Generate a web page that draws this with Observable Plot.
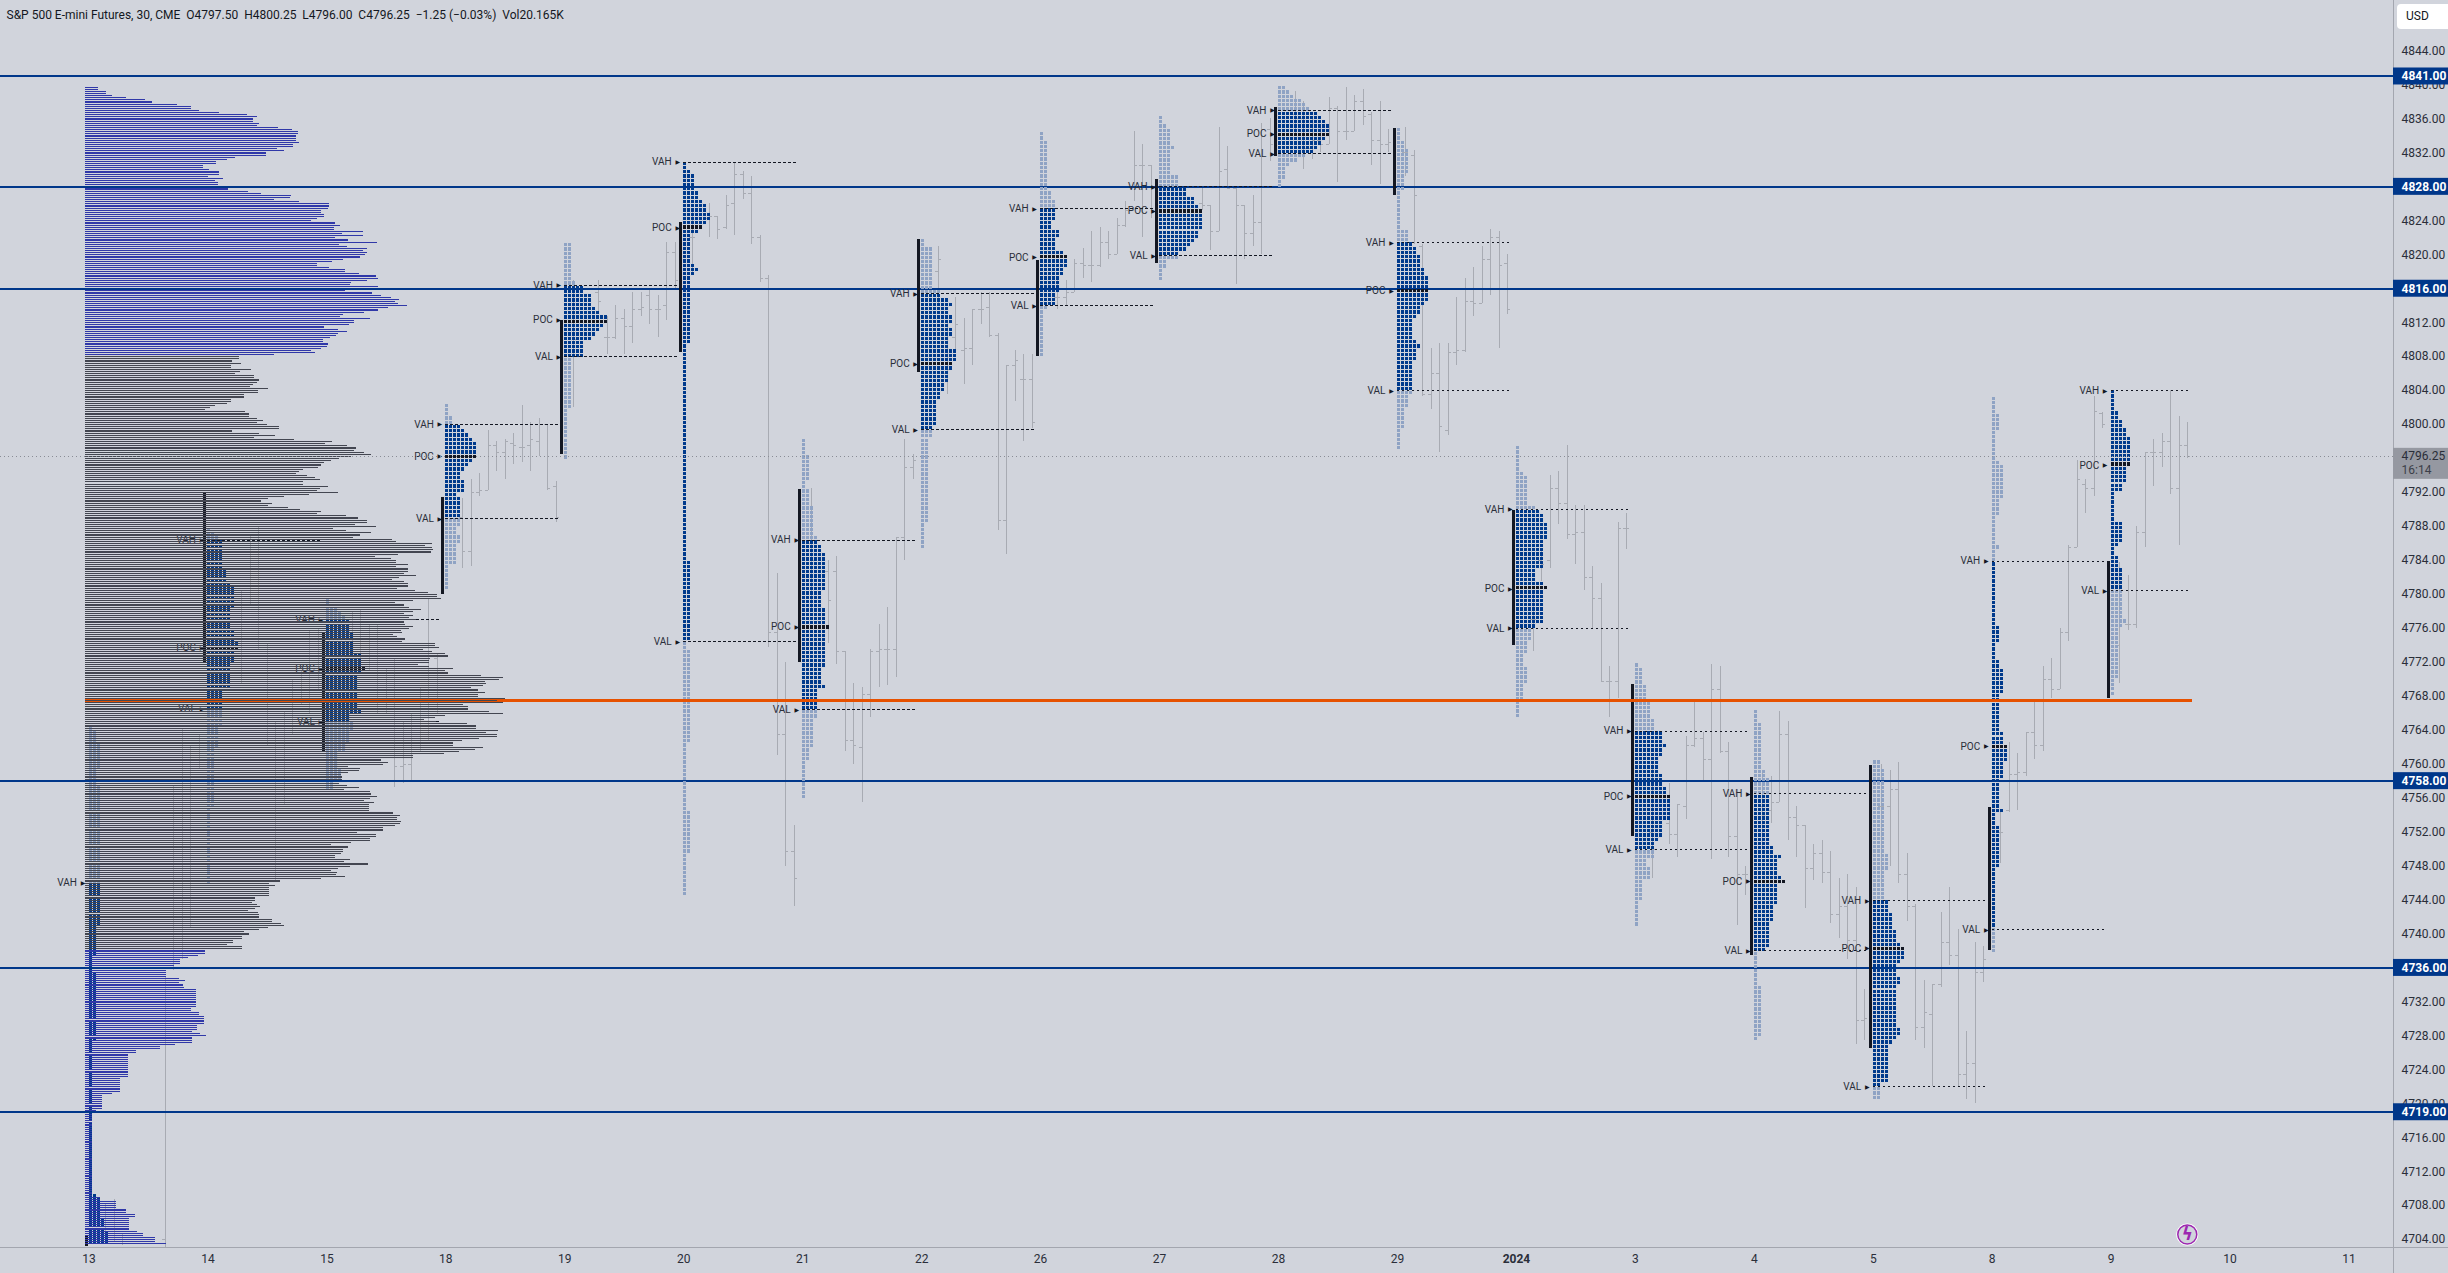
<!DOCTYPE html>
<html><head><meta charset="utf-8">
<script src="https://cdn.jsdelivr.net/npm/d3@7"></script>
<script src="https://cdn.jsdelivr.net/npm/@observablehq/plot@0.6"></script>
<style>
html,body{margin:0;padding:0;background:#D1D4DC;overflow:hidden}
#usd{position:absolute;left:2397px;top:4px;width:51px;height:25px;background:#fff;border-radius:4px 0 0 4px;font:12px Roboto,sans-serif;color:#131722;line-height:25px;padding-left:9px;box-sizing:border-box}
</style></head><body>
<div id="chart"></div><div id="usd">USD</div>
<script>
const titleText="S&P 500 E-mini Futures, 30, CME  O4797.50  H4800.25  L4796.00  C4796.25  −1.25 (−0.03%)  Vol20.165K";
const tickLabels=["13","14","15","18","19","20","21","22","26","27","28","29","2024","3","4","5","8","9","10","11"];
const priceTicks=[4704,4708,4712,4716,4720,4724,4728,4732,4736,4740,4744,4748,4752,4756,4760,4764,4768,4772,4776,4780,4784,4788,4792,4796,4800,4804,4808,4812,4816,4820,4824,4828,4832,4836,4840,4844];
const blueLevels=[4841,4828,4816,4758,4736,4719];
const orangeLevel=4767.5;
const lastPrice=4796.25;

// session composite volume profile, by tick rows of 0.25 from each start price
const profileA=[30,30,47,47,60,92,135,150,206,238,238,256,301,363,386,377,377,390,386,433,464,478,478,473,473,472,480,466,466,430,446,405,406,336,318,293,294,265,265,278,301,301,276,310,292,298,298,327,320,366,395,462,460,424,480,547,547,545,529,529,536,536,520,507,560,572,559,558,623,576,623,560,590,654,569,587,632,623,632,628,616,578,554,520,520,547,583,583,614,652,657,632,597,593,657,600,583,643,663,686,704,694,702,722,679,657,625,578,572,639,603,603,592,536,567,587,567,563,549,534,534,545,542,529,507,516,424];
const profileB=[345,345,330,351,327,327,372,348,336,379,379,390,385,377,370,410,388,388,357,357,327,327,318,292,280,269,359,368,368,386,400,386,408,435,435,330,390,426,379,469];
const profileC=[554,538,587,607,603,625,640,596,570,551,536,530,522,488,480,473,498,516,527,489,489,545,527,520,567,503,446,410,395,419,410,455,482,530,520,585,612,632,632,605,652,556,586,640,616,600,688,697,778,762,778,780,775,702,650,686,698,697,725,698,723,725,715,742,704,688,715,723,723,700,740,769,789,788,798,735,695,715,727,753,735,715,735,727,742,715,717,735,727,708,710,690,700,717,710,784,784,793,758,777,807,814,773,770,770,746,772,825,807,813,814,778,816,829,778,831];
const profileD=[887,937,928,896,899,893,865,881,896,881,881,942,923,937,847,858,858,905,937,807,784,760,787,856,876,876,926,899,923,923,883,845,825,825,892,874,838,805,735,735,664,679,668,590,616,614,590,574,577,577,569,569,587,615,581,639,640,654,639,625,648,637,637,637,637,690,706,699,699,708,706,695,668,668,610,652,652,639,639,596,551,590,578,578,573,560,560,594,580,634,594,567,551,565,563,582,529,505,508,489,482,472,450];
const profileE=[437,413,426,413,413,413,413,413,381,381,374,386,392,381,366,388,390,390,419,419,439,446,410,390,357,368,352,352,332,332,318,352,352,377,354,294];
const profileF=[269,269,254,231,213,213,213,200,200,182,182,182,182,211,224,211,220,222,249,249,249,249,249,249,249,249,249,238,238,256,256,267,267,267,267,251,251,251,240,258,271,240,240,240,202,168,168,115,115,97,97,97,97,97,97,97,97,97,97,97,79,79,79,79,79,79,79,61,38,38,38,38,38,38,38,25,25,16,16,16,16,16,16,16,16,16,16,16,16,16,16,16,16,16,16,16,16,16,16,16,16,16,16,16,16,16,16,16,16,16,16,16,16,16,16,16,34,34,70,70,70,70,92,92,112,112,99,99,99,99,99,99,117,130,130,157,157,157,182];
const profileStarts=[[4839.75,profileA],[4808,profileB],[4798,profileC],[4770.5,profileD],[4746.25,profileE],[4738,profileF]];
const valueAreaHigh=4808, valueAreaLow=4738.25;

// daily TPO profile: session tops, VAH, POC, VAL, opening range high and low
const sessionTop=[4764.35,4787.8,4779.4,4802.4,4821.3,4830.9,4798.3,4821.8,4834.4,4836.3,4839.8,4834.9,4797.4,4771.8,4766.3,4760.4,4803.2,4804];
const sessionVah=[4746,4786.4,4777,4800,4816.4,4830.9,4786.4,4815.4,4825.4,4828,4837,4821.4,4790,4763.9,4756.5,4743.9,4783.9,4804];
const sessionPoc=[null,4773.7,4771.2,4796.25,4812.3,4823.2,4776.2,4807.1,4819.7,4825.2,4834.2,4815.7,4780.6,4756.2,4746.2,4738.3,4762.1,4795.2];
const sessionVal=[null,4766.5,4765,4788.9,4808,4774.4,4766.4,4799.4,4814,4819.9,4831.9,4804,4776,4749.9,4738,4722,4740.5,4780.4];
const openHigh=[4704.5,4791.9,4775.4,4791.4,4812.2,4823.8,4792.3,4821.8,4819.3,4828.9,4837.3,4834.9,4789.9,4769.4,4758.4,4759.8,4754.9,4783.9];
const openLow=[4703.2,4771.9,4761.5,4780,4796.5,4808.5,4772,4806.1,4808,4819,4831.6,4827,4774,4751.5,4737.5,4726.5,4738.1,4767.7];

// TPO widths as runs of [row count, letters per row], from top to bottom
const tpo13=[[1,1],[3,2],[6,3],[4,2],[22,3],[11,3],[7,2],[4,1],[16,2],[36,1],[1,2],[5,3],[3,4],[3,5]];
const tpo14=[[1,1],[1,2],[1,3],[7,4],[3,5],[1,6],[5,7],[5,6],[3,7],[2,8],[3,7],[6,6],[5,4],[4,4],[5,3],[14,2],[18,1]];
const tpo15=[[2,1],[1,3],[1,4],[1,5],[3,6],[5,7],[3,9],[1,10],[1,9],[3,8],[5,8],[1,9],[2,6],[2,7],[3,6],[2,5],[4,3],[3,4],[2,2]];
const tpo18=[[3,1],[2,2],[1,4],[1,5],[1,6],[1,7],[4,8],[1,7],[1,6],[1,5],[2,4],[3,5],[1,3],[5,4],[2,4],[2,3],[2,4],[5,3],[6,1]];
const tpo19=[[9,2],[1,3],[2,5],[3,7],[1,8],[1,9],[2,11],[1,10],[1,9],[1,8],[1,7],[1,5],[3,5],[12,2],[12,1]];
const tpo20=[[2,1],[1,2],[4,3],[2,4],[1,5],[2,6],[2,7],[1,6],[1,5],[1,4],[7,2],[1,3],[1,4],[1,3],[16,2],[51,1],[17,2],[2,2],[2,1],[22,2],[16,1],[10,2],[10,1]];
const tpo21=[[4,1],[6,2],[2,1],[4,2],[7,3],[1,4],[1,4],[2,5],[9,6],[4,5],[4,6],[1,7],[5,6],[4,6],[4,5],[1,6],[5,4],[2,4],[7,3],[3,2],[9,1]];
const tpo22=[[2,1],[8,3],[2,3],[2,5],[1,7],[1,8],[2,7],[2,8],[1,7],[2,8],[3,7],[3,9],[2,8],[3,7],[2,6],[2,5],[6,4],[3,3],[20,2],[6,1]];
const tpo26=[[2,1],[10,2],[2,2],[2,3],[2,4],[3,4],[2,3],[2,5],[3,4],[1,6],[3,7],[2,6],[4,5],[3,4],[1,2],[11,1]];
const tpo27=[[2,1],[1,2],[4,3],[1,4],[6,3],[3,5],[2,7],[2,9],[1,10],[5,11],[2,10],[1,9],[1,8],[1,7],[2,5],[2,2],[3,1]];
const tpo28=[[1,2],[1,3],[1,4],[1,6],[1,7],[1,8],[1,10],[1,11],[1,12],[3,13],[1,12],[1,11],[1,10],[1,9],[1,7],[1,5],[1,3],[3,2],[2,1]];
const tpo29=[[3,1],[2,2],[6,3],[4,2],[9,1],[3,3],[1,4],[2,5],[3,6],[2,7],[6,8],[1,7],[2,6],[1,5],[5,4],[1,5],[1,6],[3,5],[6,4],[2,4],[3,3],[5,2],[5,1]];
const tpoJan2=[[6,1],[1,2],[7,3],[1,5],[1,6],[2,7],[4,8],[7,7],[3,5],[1,7],[1,8],[8,7],[1,5],[3,4],[3,3],[3,2],[4,3],[4,2],[4,1]];
const tpoJan3=[[1,1],[4,2],[4,3],[4,4],[3,5],[3,7],[1,8],[2,7],[4,6],[3,7],[2,8],[6,9],[4,7],[1,6],[2,5],[2,5],[2,3],[3,4],[5,2],[6,1]];
const tpoJan4=[[3,1],[11,2],[2,3],[4,4],[12,4],[2,5],[1,7],[4,6],[1,7],[1,8],[5,6],[4,5],[6,4],[1,3],[8,1],[12,2],[1,1]];
const tpoJan5=[[2,2],[20,3],[4,4],[4,3],[3,3],[3,4],[4,5],[3,6],[1,7],[3,8],[1,7],[3,6],[2,7],[10,6],[2,7],[1,6],[1,5],[8,4],[1,4],[4,2]];
const tpoJan8=[[4,1],[4,2],[7,1],[1,2],[8,3],[4,2],[7,1],[1,2],[3,1],[15,1],[4,2],[4,1],[2,2],[6,3],[2,2],[7,2],[3,3],[1,4],[3,4],[4,3],[7,2],[1,3],[3,1],[10,2],[15,1],[5,1]];
const tpoJan9=[[5,1],[2,2],[2,3],[2,4],[7,5],[4,4],[2,3],[7,1],[5,3],[1,2],[2,1],[3,2],[4,3],[8,3],[1,4],[1,3],[12,2],[4,1]];
const tpoRows=[tpo13,tpo14,tpo15,tpo18,tpo19,tpo20,tpo21,tpo22,tpo26,tpo27,tpo28,tpo29,tpoJan2,tpoJan3,tpoJan4,tpoJan5,tpoJan8,tpoJan9];

// 30-minute bars per session: [slot, high, low, open, close]
const bars13=[[2,4708.25,4704.25,4706,4706],[3,4708.75,4703.75,4705,4707],[4,4704.75,4703.25,4704,4704],[9,4735,4703,4704,4734],[10,4757.5,4735.75,4736,4755],[11,4764.25,4737,4755,4756],[12,4762.25,4740.75,4756,4758],[13,4763.5,4759.5,4762,4760]];
const bars14=[[4,4780.5,4769.5,4775,4774],[5,4787,4778.75,4780,4784],[6,4788,4773.5,4784,4776],[7,4774.25,4762.25,4774,4765],[8,4765,4746.25,4765,4750],[9,4766.25,4755.25,4755.5,4762],[10,4770,4763.5,4764,4766],[11,4771,4767,4768,4769],[12,4775.75,4766,4769,4772],[13,4776,4768.75,4772,4773]];
const bars15=[[3,4778,4774.5,4776,4776],[4,4778.25,4771.5,4776,4776],[5,4776.5,4771,4776.25,4772],[6,4776.5,4766,4772,4772],[7,4771.25,4766,4770,4768],[8,4772.5,4757.25,4770,4759.75],[9,4765,4757.75,4759.75,4760],[10,4766,4758,4760,4762],[11,4769,4761.5,4762,4764],[12,4779.5,4762.75,4764,4774],[13,4773,4766,4772.5,4770]];
const bars18=[[2,4791.25,4783,4789,4785],[3,4793.5,4783.25,4785,4792],[4,4794.25,4791.5,4792,4792.25],[5,4799.25,4792.25,4792.25,4797.5],[6,4798,4794.5,4797.5,4796.75],[7,4798.25,4793.5,4796.75,4798],[8,4799,4795.25,4797.75,4797.5],[9,4802.25,4795.5,4797.25,4797.25],[10,4800.25,4794.5,4797.5,4798.25],[11,4800.75,4796.25,4798,4800],[12,4800,4792.25,4800,4792.5],[13,4793.25,4788.5,4792.75,4789]];
const bars19=[[1,4817,4802,4812,4810],[4,4817,4813,4815.5,4814.5],[5,4812.75,4808.25,4810.25,4810.25],[6,4814,4810,4810.25,4812.5],[7,4813.5,4808.25,4812.5,4811.5],[8,4815.5,4809.5,4811.5,4813.5],[9,4815.5,4812.75,4813.5,4813.75],[10,4816,4811.75,4815.25,4813.5],[11,4815.25,4810.25,4813.5,4813.5],[12,4821.5,4812.25,4814,4820.25],[13,4821.5,4815.75,4820.25,4817]];
const bars20=[[1,4825,4817.75,4822,4822],[3,4826,4822,4824.25,4824.5],[4,4824.5,4821.75,4824.5,4823],[5,4827,4823,4823.25,4825.75],[6,4830.75,4822.25,4826,4829.5],[7,4829.75,4826.5,4829.5,4827.25],[8,4829.25,4821.25,4827.25,4822],[9,4822.25,4816.75,4822,4817.25],[10,4817.5,4773.75,4817.25,4775.5],[11,4782.5,4761,4775.5,4763.5],[12,4772,4748,4763.5,4749.75],[13,4752.75,4743.25,4749.75,4746.5]];
const bars21=[[1,4792.5,4778,4786,4784],[3,4784,4774.25,4782.75,4779.25],[4,4784.5,4771.75,4782.75,4773.25],[5,4773.25,4761.5,4773.25,4762.75],[6,4769.5,4760,4762.75,4762.25],[7,4769,4755.5,4762,4768.25],[8,4773.5,4765.5,4768.25,4773.25],[9,4776.5,4769,4773.25,4773.5],[10,4778.5,4769.25,4773.5,4773.5],[11,4786.75,4770.25,4773.5,4786.75],[12,4798.25,4784,4786.75,4795],[13,4796.5,4793.5,4795,4795.75]];
const bars22=[[2,4821,4814,4818,4819.5],[3,4812,4803.5,4806,4806.5],[4,4815,4808.5,4810.25,4811.75],[5,4812.5,4804.75,4808.75,4809],[6,4813.5,4807,4809,4813.5],[7,4815.5,4811.75,4813.5,4813.5],[8,4815.5,4810.25,4813.75,4810.5],[9,4810.75,4787.5,4810.5,4788.75],[10,4807,4784.75,4788.75,4807],[11,4808.75,4802.75,4807,4807.5],[12,4808.25,4798,4805.25,4805.25],[13,4808.25,4799.5,4805.25,4800.25]];
const bars26=[[2,4817,4813.5,4815,4815],[3,4817,4814,4815,4815.5],[4,4819.5,4815.5,4815.5,4819],[5,4820.75,4817.25,4819,4818.75],[6,4822.75,4816.75,4818.75,4818.75],[7,4823.25,4818.5,4818.75,4821.5],[8,4822.75,4819.5,4821.5,4820],[9,4824.25,4820,4820,4823.5],[10,4826.25,4823.25,4823.5,4825.25],[11,4834.5,4826.25,4825.25,4830.5],[12,4833,4822,4830.5,4830.5],[13,4830.5,4824.25,4830.5,4825]];
const bars27=[[5,4828,4825.25,4826,4825.75],[6,4825.75,4820.5,4825.75,4822.75],[7,4835,4822.75,4822.75,4829.75],[8,4832.75,4827.75,4830,4827.75],[9,4827.75,4816.5,4827.75,4825.75],[10,4825.75,4819.5,4825.75,4822.5],[11,4827,4821,4822.5,4823.75],[12,4835.5,4820,4823.75,4834.75],[13,4836,4831,4834.75,4833]];
const bars28=[[2,4839.25,4834,4836.5,4836],[3,4838,4830,4836,4832.5],[4,4836,4831.25,4832.5,4833.5],[5,4835,4832,4833.5,4833],[6,4838.5,4833,4833,4837.25],[7,4837.5,4828.5,4837.25,4834.5],[8,4839.75,4833.5,4834.5,4834.5],[9,4838.75,4834.5,4834.5,4838],[10,4839.5,4835.25,4838,4836.25],[11,4836.75,4830.5,4836.5,4833.5],[12,4838,4828.25,4833.5,4833],[13,4834.75,4832,4833,4833.25]];
const bars29=[[1,4835,4829.25,4832,4832],[2,4832.25,4821.25,4831.75,4827],[3,4821.25,4803.25,4821,4803.5],[4,4809,4801.75,4803.5,4806],[5,4809.5,4796.75,4806,4799.75],[6,4809.5,4798.75,4799.25,4808.5],[7,4815,4807,4808.5,4808.75],[8,4817.25,4808.5,4808.75,4814.5],[9,4818.5,4812.75,4814.5,4814.25],[10,4821,4814.25,4814.25,4819.5],[11,4823,4815.25,4819.5,4822],[12,4822.75,4809,4822,4818.75],[13,4820,4813,4819,4813.5]];
const barsJan2=[[2,4780,4773.25,4777,4777],[3,4785,4781.5,4784,4783.5],[4,4794,4783,4784,4792.5],[5,4794.5,4788.25,4792.5,4790.75],[6,4797.5,4786.5,4790.75,4787],[7,4790.5,4783.5,4787,4787.25],[8,4790.5,4780.5,4787.25,4782],[9,4783.25,4776,4782,4779.5],[10,4781.25,4769.75,4779.5,4769.75],[11,4771.5,4765.5,4769.75,4769.75],[12,4788.5,4767.75,4769.75,4787.75],[13,4789.5,4785.25,4787.75,4787.75]];
const barsJan3=[[2,4760,4746.5,4752,4750],[4,4757.75,4750.5,4753,4751.75],[5,4755.25,4749,4751.75,4755.25],[6,4763.25,4753.5,4755,4762.25],[7,4767.5,4762,4762.25,4763],[8,4763.75,4758,4763,4760.5],[9,4771.75,4748.75,4760.5,4768.75],[10,4771.5,4761.25,4768.75,4761.5],[11,4762.5,4749,4761.5,4751.5],[12,4757,4741,4751.5,4747],[13,4748,4744.5,4747,4747]];
const barsJan4=[[1,4759,4750,4755,4754],[2,4758.5,4753,4754.5,4755.5],[3,4766.25,4755.5,4755.5,4763.5],[4,4765,4751,4763.5,4753.75],[5,4755,4749,4753.75,4752.75],[6,4752.75,4743,4752.75,4747.75],[7,4750.5,4746.25,4747.75,4749.5],[8,4751,4746,4749.5,4747.25],[9,4749.75,4741.25,4747.25,4742.25],[10,4746.5,4739.5,4742.25,4743.25],[11,4747,4737,4743.25,4739.25],[12,4745.5,4727,4739.25,4729.75],[13,4733.5,4727.5,4729.75,4730]];
const barsJan5=[[1,4760,4746,4755,4755],[2,4759.25,4748,4755,4757],[3,4760.25,4746,4757,4747],[4,4749.5,4741.5,4747,4743.25],[5,4743.5,4727.5,4743.25,4729],[6,4734.5,4726.5,4729,4730.75],[7,4734,4722,4730.5,4734],[8,4742.5,4733.75,4734,4739],[9,4745.5,4736.25,4739,4737.5],[10,4740.5,4722,4737.5,4723.5],[11,4728.5,4720.5,4723.5,4724.75],[12,4739,4720,4724.75,4735.5],[13,4738.5,4734.25,4735.5,4737]];
const barsJan8=[[1,4754.5,4748.25,4752,4752],[2,4762.5,4754.25,4754.5,4758.75],[3,4761.25,4754.5,4758.75,4759],[4,4763.75,4758.5,4759,4763.75],[5,4767.5,4760.5,4763.75,4762.25],[6,4771.5,4761.5,4762.25,4770],[7,4772.5,4767.75,4770,4768.75],[8,4776,4768.75,4768.75,4775.5],[9,4785.75,4774.5,4775.5,4785.5],[10,4795.75,4785.5,4785.5,4793.5],[11,4793.5,4789.5,4793,4792.5],[12,4803.25,4791.5,4792.5,4801.5],[13,4801.4,4799.5,4801.25,4800]];
const barsJan9=[[1,4783.75,4769.5,4774,4777],[2,4782.25,4775.75,4776.5,4776.5],[3,4788,4776,4776.5,4787.25],[4,4796.75,4785.5,4787.25,4796.75],[5,4798.25,4792.75,4796.75,4796.75],[6,4799,4795,4796.75,4798],[7,4804,4791.75,4798,4792.5],[8,4801,4785.75,4792.5,4797.5],[9,4800.25,4796,4797.5,4796.25]];
const barRows=[bars13,bars14,bars15,bars18,bars19,bars20,bars21,bars22,bars26,bars27,bars28,bars29,barsJan2,barsJan3,barsJan4,barsJan5,barsJan8,barsJan9];

const boltAt={session:17.64,price:4704.6};

// ---- scales (pixels per session, pixels per point)
const W=2448,H=1273,axisX=2393,axisY=1247;
const pxS=118.95, x0=88.5;
const toS=px=>(px-x0)/pxS;
const yTop=4849.95,yBot=4703.07;
const volUnit=1/(2.24*pxS);
const profLeft=toS(84.8);
const px=n=>n/pxS;
const rowH=0.132;
const blockH=3.24/8.49;

const BG="#D1D4DC",BLUE="#00378a",LIGHT="#8fa3c4",DARK="#003a8c",INK="#131722",ORANGE="#e65100",GREY="#a8abb3";

// ---- tables built from the arrays
const profMap=new Map();
profileStarts.forEach(([s,a])=>a.forEach((v,i)=>profMap.set(s-i*0.25,v)));
const profile=[...profMap].map(([p,v])=>({p,v}));
const profBlue=profile.filter(d=>d.p>valueAreaHigh||d.p<valueAreaLow);
const profGrey=profile.filter(d=>d.p<=valueAreaHigh&&d.p>=valueAreaLow);

const blocks=[];
tpoRows.forEach((runs,s)=>{
  const top=sessionTop[s];
  const dStart=Math.round((top-sessionVah[s])/0.5);
  const dEnd=sessionVal[s]==null?1e9:Math.round((top-sessionVal[s])/0.5);
  const pocR=sessionPoc[s]==null?-1:Math.round((top-sessionPoc[s]-0.176)/0.5);
  let r=0;
  for(const [n,w] of runs){
    for(let k=0;k<n;k++,r++){
      const kind=r===pocR?"poc":(r>=dStart&&r<dEnd?"dark":"light");
      for(let c=0;c<w;c++)blocks.push({s,c,p:top-r*0.5,kind});
    }
  }
});
const blockMark=(kind,fill)=>Plot.rect(blocks.filter(d=>d.kind===kind),{
  x1:d=>d.s+d.c*px(4),x2:d=>d.s+d.c*px(4)+px(3),y1:d=>d.p,y2:d=>d.p-blockH,fill,shapeRendering:"crispEdges"});

const bars=barRows.flatMap((a,s)=>a.map(([k,h,l,o,c])=>({x:s+k/14,h,l,o,c})));
const sessions=sessionTop.map((_,s)=>s);
const dashEnd=s=>s===17?17.647:s+1-px(5);

const dashes=[];
sessions.forEach(s=>{
  dashes.push({s,p:sessionVah[s],t:"VAH"});
  if(sessionVal[s]!=null)dashes.push({s,p:sessionVal[s],t:"VAL"});
});
const labels=[...dashes];
sessions.forEach(s=>{if(sessionPoc[s]!=null)labels.push({s,p:sessionPoc[s],t:"POC"});});

const lastPx=toS(W);
const edge=toS(axisX);

const fig=Plot.plot({
  width:W,height:H,marginLeft:0,marginTop:0,marginRight:W-axisX,marginBottom:H-axisY,
  style:{background:BG,fontFamily:"Roboto, sans-serif",fontSize:"12px",color:INK},
  x:{domain:[toS(0),edge],range:[0,axisX],axis:null},
  y:{domain:[yBot,yTop],range:[axisY,0],axis:null},
  marks:[
    // 30-minute bars
    Plot.ruleX(bars,{x:"x",y1:"h",y2:"l",stroke:GREY,strokeWidth:1,shapeRendering:"crispEdges"}),
    Plot.ruleY(bars,{y:"o",x1:d=>d.x-px(3),x2:"x",stroke:GREY,strokeWidth:1,shapeRendering:"crispEdges"}),
    Plot.ruleY(bars,{y:"c",x1:"x",x2:d=>d.x+px(3),stroke:GREY,strokeWidth:1,shapeRendering:"crispEdges"}),
    // levels
    Plot.ruleY(blueLevels,{x1:toS(0),x2:edge,stroke:BLUE,strokeWidth:2,shapeRendering:"crispEdges"}),
    // daily TPO
    blockMark("light",LIGHT),
    blockMark("dark",DARK),
    blockMark("poc",INK),
    Plot.rect(sessions,{x1:s=>s-px(4),x2:s=>s-px(1),y1:s=>openHigh[s],y2:s=>openLow[s],fill:INK,shapeRendering:"crispEdges"}),
    Plot.ruleY(dashes,{y:"p",x1:"s",x2:d=>dashEnd(d.s),stroke:INK,strokeWidth:1,strokeDasharray:"2.5,2.5",shapeRendering:"crispEdges"}),
    Plot.text(labels,{x:"s",y:"p",text:"t",dx:-12,textAnchor:"end",fontSize:10,fill:"#2a2e39"}),
    Plot.text(labels,{x:"s",y:"p",text:()=>"▶",dx:-6,fontSize:6,fill:INK,fontFamily:"DejaVu Sans"}),
    // orange level
    Plot.ruleY([orangeLevel],{x1:profLeft,x2:toS(2192),stroke:ORANGE,strokeWidth:3,shapeRendering:"crispEdges"}),
    // composite volume profile
    Plot.rect(profGrey,{x1:profLeft,x2:d=>profLeft+d.v*volUnit,y1:d=>d.p,y2:d=>d.p-rowH,fill:"#434651",shapeRendering:"crispEdges"}),
    Plot.rect(profBlue,{x1:profLeft,x2:d=>profLeft+d.v*volUnit,y1:d=>d.p,y2:d=>d.p-rowH,fill:"#3038a8",shapeRendering:"crispEdges"}),
    Plot.ruleY(blueLevels.filter(p=>p<4840),{x1:profLeft,x2:toS(505),stroke:BLUE,strokeWidth:2,shapeRendering:"crispEdges"}),
    // last price line
    Plot.ruleY([lastPrice],{x1:toS(0),x2:edge,stroke:"#8a8d96",strokeWidth:1,strokeDasharray:"1,3",shapeRendering:"crispEdges"}),
    // axes
    Plot.axisY(priceTicks,{anchor:"right",tickSize:0,tickPadding:8,label:null,tickFormat:d=>d.toFixed(2),fontSize:12,fill:"#2a2e39"}),
    Plot.axisX(d3.range(tickLabels.length).filter(i=>i!==12),{anchor:"bottom",tickSize:0,tickPadding:7,label:null,tickFormat:i=>tickLabels[i],fontSize:12,fill:"#2a2e39"}),
    Plot.axisX([12],{anchor:"bottom",tickSize:0,tickPadding:7,label:null,tickFormat:i=>tickLabels[i],fontSize:12,fontWeight:"bold",fill:"#2a2e39"}),
    Plot.ruleX([edge],{y1:yTop,y2:yBot-26/8.49,stroke:"#a3a6af",strokeWidth:1,shapeRendering:"crispEdges"}),
    Plot.ruleY([yBot],{x1:toS(0),x2:lastPx,stroke:"#a3a6af",strokeWidth:1,shapeRendering:"crispEdges"}),
    // axis tags
    Plot.rect(blueLevels,{x1:edge,x2:lastPx,y1:p=>p+1,y2:p=>p-1,fill:BLUE}),
    Plot.text(blueLevels,{x:edge,y:p=>p,dx:8,text:p=>p.toFixed(2),textAnchor:"start",fontSize:12,fontWeight:"bold",fill:"#fff"}),
    Plot.rect([lastPrice],{x1:edge,x2:lastPx,y1:p=>p+0.95,y2:p=>p-2.7,fill:"#9598a1"}),
    Plot.text([lastPrice],{x:edge,y:p=>p,dx:8,text:p=>p.toFixed(2),textAnchor:"start",fontSize:12,fill:"#2a2e39"}),
    Plot.text([lastPrice],{x:edge,y:p=>p,dx:8,dy:14,text:()=>"16:14",textAnchor:"start",fontSize:12,fill:"#3c3f49"}),
    // icon
    Plot.dot([boltAt],{x:"session",y:"price",r:11,fill:"#fff"}),
    Plot.dot([boltAt],{x:"session",y:"price",r:9.5,fill:BG,stroke:"#9c27b0",strokeWidth:1.5}),
    Plot.text([boltAt],{x:"session",y:"price",text:()=>"ϟ",fontSize:17,fontWeight:"bold",fill:"#9c27b0",fontFamily:"DejaVu Sans"}),
    // legend line
    Plot.text([titleText],{frameAnchor:"top-left",dx:6,dy:15,text:d=>d,fontSize:12,textAnchor:"start",lineAnchor:"middle",fill:INK})
  ]
});
document.getElementById("chart").appendChild(fig);
</script>
</body></html>
